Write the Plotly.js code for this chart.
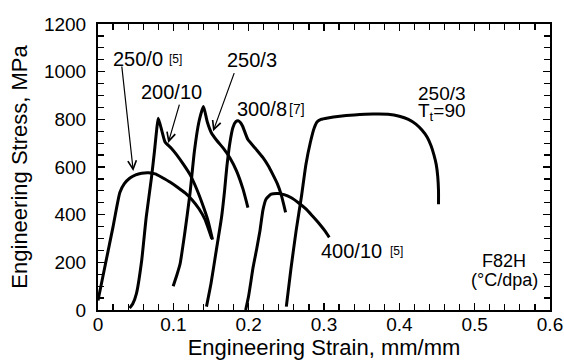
<!DOCTYPE html>
<html>
<head>
<meta charset="utf-8">
<script src="https://cdn.plot.ly/plotly-3.0.1.min.js"></script>
<style>html,body{margin:0;padding:0;background:#fff;}#chart{width:564px;height:364px;}</style>
</head>
<body>
<div id="chart"></div>
<script>
// 250/0 [5]
const s250_0_x = [0, 0.010, 0.020, 0.029, 0.035, 0.042, 0.050, 0.058, 0.067, 0.076, 0.085, 0.096, 0.106, 0.116, 0.125, 0.134, 0.142, 0.151];
const s250_0_y = [40, 195, 350, 493, 530, 553, 567, 574, 576, 571, 556, 536, 514, 490, 462, 425, 380, 300];
// 200/10
const s200_10_x = [0.042, 0.046, 0.051, 0.058, 0.064, 0.071, 0.075, 0.078, 0.080, 0.0845, 0.089, 0.097, 0.104, 0.113, 0.122, 0.130, 0.138, 0.146, 0.152];
const s200_10_y = [8, 25, 69, 208, 389, 556, 667, 760, 805, 755, 705, 680, 653, 613, 569, 515, 450, 375, 295];
// 250/3
const s250_3_x = [0.0998, 0.105, 0.109, 0.115, 0.122, 0.128, 0.134, 0.1400, 0.1450, 0.1506, 0.158, 0.166, 0.175, 0.184, 0.1925, 0.199];
const s250_3_y = [100, 150, 194, 319, 486, 667, 790, 854, 790, 743, 710, 680, 639, 583, 507, 430];
// 300/8 [7]
const s300_8_x = [0.144, 0.150, 0.157, 0.164, 0.168, 0.171, 0.175, 0.179, 0.183, 0.186, 0.189, 0.192, 0.199, 0.210, 0.219, 0.226, 0.232, 0.238, 0.243, 0.249];
const s300_8_y = [14, 111, 250, 389, 500, 600, 700, 765, 790, 794, 787, 771, 715, 674, 639, 605, 569, 530, 486, 410];
// 400/10 [5]
const s400_10_x = [0.196, 0.200, 0.206, 0.211, 0.215, 0.219, 0.223, 0.230, 0.239, 0.247, 0.256, 0.266, 0.276, 0.285, 0.294, 0.301, 0.307];
const s400_10_y = [0, 60, 181, 262, 333, 420, 465, 486, 489, 484, 472, 450, 424, 393, 361, 333, 305];
// 250/3, Tt=90
const s250_3t_x = [0.250, 0.256, 0.263, 0.270, 0.276, 0.282, 0.287, 0.291, 0.296, 0.305, 0.321, 0.340, 0.365, 0.385, 0.400, 0.412, 0.422, 0.430, 0.437, 0.442, 0.446, 0.449, 0.451, 0.452, 0.452];
const s250_3t_y = [14, 170, 333, 475, 611, 705, 764, 790, 800, 806, 813, 818, 822, 821, 813, 800, 780, 755, 725, 690, 650, 610, 560, 500, 444];

const xTicks = [0, 0.1, 0.2, 0.3, 0.4, 0.5, 0.6];
const xTickText = ['0', '0.1', '0.2', '0.3', '0.4', '0.5', '0.6'];
const yTicks = [0, 200, 400, 600, 800, 1000, 1200];
const yTickText = ['0', '200', '400', '600', '800', '1000', '1200'];

const FONT = 'Liberation Sans, Arial, Helvetica, sans-serif';
const lineStyle = {color: '#000', width: 3};
const series = [
  [s250_0_x, s250_0_y], [s200_10_x, s200_10_y], [s250_3_x, s250_3_y],
  [s300_8_x, s300_8_y], [s400_10_x, s400_10_y], [s250_3t_x, s250_3t_y]
];
const traces = series.map(([x, y]) => ({
  x: x, y: y, type: 'scatter', mode: 'lines', line: Object.assign({shape: 'spline', smoothing: 0.5}, lineStyle),
  hoverinfo: 'skip', showlegend: false
}));

function label(text, x, y, xanchor, size) {
  return {text: text, x: x, y: y, xref: 'x', yref: 'y', xanchor: xanchor, yanchor: 'middle',
    showarrow: false, borderpad: 0, font: {family: FONT, size: size || 20, color: '#000'}};
}
function arrow(hx, hy, tx, ty) {
  return {text: '', x: hx, y: hy, ax: tx, ay: ty, xref: 'x', yref: 'y', axref: 'x', ayref: 'y',
    showarrow: true, arrowhead: 5, arrowsize: 1.4, arrowwidth: 1.2, arrowcolor: '#000', standoff: 0, startstandoff: 0};
}

const annotations = [
  label('250/0', 0.018, 1054, 'left'),
  label('[5]', 0.0927, 1054, 'left', 12),
  label('200/10', 0.0976, 914, 'center'),
  label('250/3', 0.2045, 1050, 'center'),
  label('300/8', 0.1836, 844, 'left'),
  label('[7]', 0.252, 842, 'left', 14),
  label('250/3', 0.4238, 910, 'left', 19),
  label('T<sub>t</sub>=90', 0.4238, 831, 'left', 19),
  label('400/10', 0.295, 248, 'left'),
  label('[5]', 0.3858, 246, 'left', 12),
  label('F82H', 0.539, 204, 'center', 18),
  label('(°C/dpa)', 0.539, 126, 'center', 18),
  arrow(0.0468, 583, 0.0314, 1028),
  arrow(0.0932, 701, 0.1086, 868),
  arrow(0.1528, 750, 0.1815, 1000)
];

const axisCommon = {
  showgrid: false, zeroline: false, showline: true, linecolor: '#000', linewidth: 2,
  mirror: 'ticks', ticks: 'inside', ticklen: 7, tickwidth: 1.2, tickcolor: '#000',
  tickfont: {family: FONT, size: 19, color: '#000'}
};

const layout = {
  width: 564, height: 364,
  margin: {l: 98, r: 14, t: 24, b: 54, pad: 0},
  paper_bgcolor: '#fff', plot_bgcolor: '#fff',
  font: {family: FONT, color: '#000'},
  xaxis: Object.assign({}, axisCommon, {
    range: [0, 0.6], tickmode: 'array', tickvals: xTicks, ticktext: xTickText,
    minor: {dtick: 0.02, ticks: 'inside', ticklen: 6, tickwidth: 1.2, tickcolor: '#000', showgrid: false},
    title: {text: 'Engineering Strain, mm/mm', font: {family: FONT, size: 22, color: '#000'}, standoff: 0},
    ticklabelstandoff: -4
  }),
  yaxis: Object.assign({}, axisCommon, {
    range: [0, 1200], tickmode: 'array', tickvals: yTicks, ticktext: yTickText,
    minor: {dtick: 50, ticks: 'inside', ticklen: 6, tickwidth: 1.2, tickcolor: '#000', showgrid: false},
    title: {text: 'Engineering Stress, MPa', font: {family: FONT, size: 22, color: '#000'}, standoff: 10},
    ticklabelstandoff: 6
  }),
  annotations: annotations
};

Plotly.newPlot('chart', traces, layout, {staticPlot: true, displayModeBar: false});
</script>
</body>
</html>
